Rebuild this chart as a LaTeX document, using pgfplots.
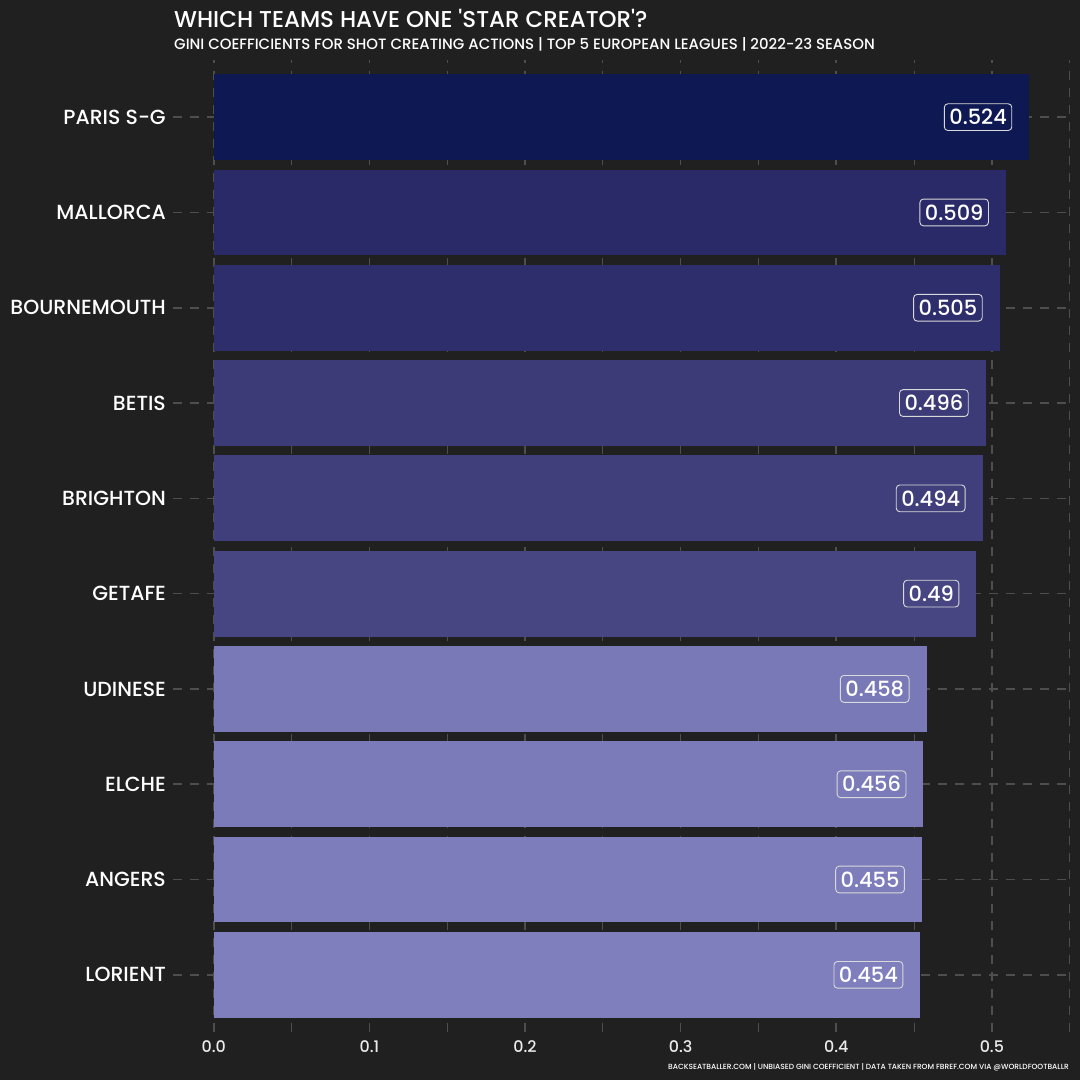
\documentclass[border=0pt]{standalone}
\usepackage{pgfplots}
\pgfplotsset{compat=1.18}
\usepackage{fontspec}
\setmainfont{Poppins Medium}
\definecolor{bg}{HTML}{202020}
\definecolor{gridc}{HTML}{4E4E4E}
\definecolor{cPSG}{HTML}{0E1852}
\definecolor{cMAL}{HTML}{2A2A68}
\definecolor{cBOU}{HTML}{2F2E6C}
\definecolor{cBET}{HTML}{3C3B78}
\definecolor{cBRI}{HTML}{403F7C}
\definecolor{cGET}{HTML}{474683}
\definecolor{cUDI}{HTML}{7A79B7}
\definecolor{cELC}{HTML}{7C7BB9}
\definecolor{cANG}{HTML}{7E7DBB}
\definecolor{cLOR}{HTML}{807FBE}
\begin{document}
\begin{tikzpicture}[x=1bp,y=1bp]
\fill[bg] (0,0) rectangle (1080,1080);
\begin{axis}[
  at={(173bp,48bp)}, anchor=south west,
  width=897bp, height=972bp, scale only axis,
  xmin=-0.0262, xmax=0.5502, ymin=0.4, ymax=10.6,
  axis line style={draw=none},
  major tick length=0pt, minor tick length=0pt,
  tick style={draw=none},
  xtick={0,0.1,0.2,0.3,0.4,0.5},
  minor xtick={0.05,0.15,0.25,0.35,0.45,0.55},
  xticklabel={\pgfmathprintnumber[fixed,fixed zerofill,precision=1]{\tick}},
  ytick={1,2,3,4,5,6,7,8,9,10},
  yticklabels={LORIENT,ANGERS,ELCHE,UDINESE,GETAFE,BRIGHTON,BETIS,BOURNEMOUTH,MALLORCA,PARIS S-G},
  xmajorgrids, xminorgrids, ymajorgrids,
  major grid style={color=gridc, line width=1.6bp, dash pattern=on 9bp off 8bp},
  minor grid style={color=gridc, line width=0.9bp, dash pattern=on 9bp off 8bp},
  xticklabel style={font=\fontsize{16}{16}\selectfont, text=white!92!black, anchor=base, inner sep=0pt, yshift=-21bp},
  yticklabel style={font=\fontsize{20.5}{20.5}\selectfont, text=white, anchor=east, inner sep=0pt, xshift=-7bp},
  /pgf/number format/assume math mode=true,
  xbar, bar width=0.9, bar shift=0pt,
  nodes near coords={\pgfmathprintnumber[fixed,precision=3]{\pgfplotspointmeta}},
  point meta=explicit,
  nodes near coords style={anchor=east, xshift=-17bp, draw=white!85!black, line width=0.9bp, rounded corners=3.5bp, text=white, font=\fontsize{21}{21}\selectfont, inner xsep=5bp, inner ysep=5.5bp},
]
\addplot[fill=cLOR, draw=none] coordinates {(0.454,1) [0.454]};
\addplot[fill=cANG, draw=none] coordinates {(0.455,2) [0.455]};
\addplot[fill=cELC, draw=none] coordinates {(0.456,3) [0.456]};
\addplot[fill=cUDI, draw=none] coordinates {(0.458,4) [0.458]};
\addplot[fill=cGET, draw=none] coordinates {(0.490,5) [0.49]};
\addplot[fill=cBRI, draw=none] coordinates {(0.494,6) [0.494]};
\addplot[fill=cBET, draw=none] coordinates {(0.496,7) [0.496]};
\addplot[fill=cBOU, draw=none] coordinates {(0.505,8) [0.505]};
\addplot[fill=cMAL, draw=none] coordinates {(0.509,9) [0.509]};
\addplot[fill=cPSG, draw=none] coordinates {(0.524,10) [0.524]};
\end{axis}
\node[anchor=base west, inner sep=0pt, text=white, font=\fontsize{23}{23}\selectfont] at (174,1052) {WHICH TEAMS HAVE ONE \textquotesingle STAR CREATOR\textquotesingle ?};
\node[anchor=base west, inner sep=0pt, text=white, font=\fontsize{15}{15}\selectfont] at (174,1030) {GINI COEFFICIENTS FOR SHOT CREATING ACTIONS | TOP 5 EUROPEAN LEAGUES | 2022-23 SEASON};
\node[anchor=base east, inner sep=0pt, text=white, font=\fontsize{7.5}{7.5}\selectfont] at (1069,10) {BACKSEATBALLER.COM | UNBIASED GINI COEFFICIENT | DATA TAKEN FROM FBREF.COM VIA @WORLDFOOTBALLR};
\end{tikzpicture}
\end{document}
